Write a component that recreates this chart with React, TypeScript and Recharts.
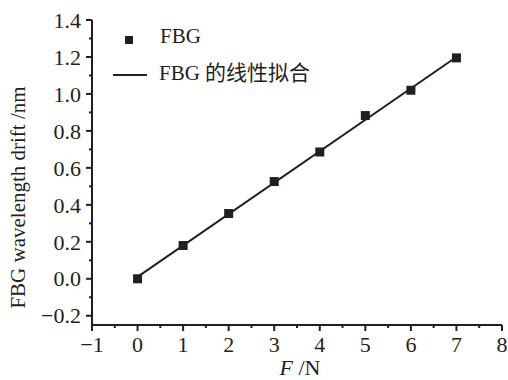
import React from 'react';
import { ComposedChart, Scatter, XAxis, YAxis } from 'recharts';

const forceN = [0, 1, 2, 3, 4, 5, 6, 7];
const driftNm = [0.0, 0.18, 0.353, 0.526, 0.686, 0.883, 1.02, 1.195];
const fitForce = [0, 7];
const fitDrift = [0.01, 1.2];
const xTicks = [-1, -0.5, 0, 0.5, 1, 1.5, 2, 2.5, 3, 3.5, 4, 4.5, 5, 5.5, 6, 6.5, 7, 7.5, 8];
const yTicks = [-0.2, -0.1, 0, 0.1, 0.2, 0.3, 0.4, 0.5, 0.6, 0.7, 0.8, 0.9, 1.0, 1.1, 1.2, 1.3, 1.4];
const legendNames = ['FBG', 'FBG 的线性拟合'];

const pointData = forceN.map((x, i) => ({ x, y: driftNm[i] }));
const fitData = fitForce.map((x, i) => ({ x, y: fitDrift[i] }));

const INK = '#231f20';
const FONT = "'Liberation Serif', 'Times New Roman', 'Noto Sans CJK SC', serif";
const TS = 5;
const TM = 6;

const fmt = (v: number, digits: number) => {
  const s = Math.abs(v).toFixed(digits);
  return v < -1e-9 ? '\u2212' + s : s;
};

const YTick = (props: any) => {
  const { x, y, payload } = props;
  const v = payload.value;
  const major = Math.abs(Math.round(v * 10)) % 2 === 0;
  const ax = x + TS + TM;
  return (
    <g>
      <line x1={ax - (major ? 6 : 3)} x2={ax} y1={y} y2={y} stroke={INK} strokeWidth={2} />
      {major && (
        <text x={x} y={y} dy="0.35em" textAnchor="end" fontSize={22} fill={INK} fontFamily={FONT}>
          {fmt(v, 1)}
        </text>
      )}
    </g>
  );
};

const XTick = (props: any) => {
  const { x, y, payload } = props;
  const v = payload.value;
  const major = Math.abs(Math.round(v * 2)) % 2 === 0;
  const ay = y - TS - TM;
  return (
    <g>
      <line x1={x} x2={x} y1={ay} y2={ay + (major ? 6 : 3)} stroke={INK} strokeWidth={2} />
      {major && (
        <text x={x} y={y} dy="0.71em" textAnchor="middle" fontSize={22} fill={INK} fontFamily={FONT}>
          {fmt(v, 0)}
        </text>
      )}
    </g>
  );
};

const SquareDot = (props: any) => {
  const { cx, cy } = props;
  return <rect x={cx - 4.5} y={cy - 4.5} width={9} height={9} fill={INK} />;
};

const NoDot = () => <g />;

const LegendBox = () => (
  <div style={{ position: 'absolute', left: 105, top: 25, width: 260, height: 70, fontFamily: FONT, fontSize: 21, color: INK, lineHeight: '21px' }}>
    <div style={{ position: 'absolute', left: 20, top: 11, width: 8, height: 8, background: INK }} />
    <div style={{ position: 'absolute', left: 55, top: 1, whiteSpace: 'nowrap' }}>{legendNames[0]}</div>
    <div style={{ position: 'absolute', left: 8, top: 49, width: 34, height: 2, background: INK }} />
    <div style={{ position: 'absolute', left: 54, top: 38, whiteSpace: 'nowrap' }}>{legendNames[1]}</div>
  </div>
);

const YLabel = (props: any) => {
  const { viewBox } = props;
  const cx = viewBox.x + 18;
  const cy = viewBox.y + viewBox.height / 2 + 25;
  return (
    <text transform={`translate(${cx},${cy}) rotate(-90)`} textAnchor="middle" dominantBaseline="central" fontSize={21} fill={INK} fontFamily={FONT}>
      FBG wavelength drift /nm
    </text>
  );
};

const XLabel = (props: any) => {
  const { viewBox } = props;
  const cx = viewBox.x + viewBox.width / 2 + 3;
  return (
    <text x={cx} y={viewBox.y + 34} dy="0.71em" textAnchor="middle" fontSize={22} fill={INK} fontFamily={FONT}>
      <tspan fontStyle="italic">F</tspan>
      <tspan> /N</tspan>
    </text>
  );
};

export default function App() {
  return (
    <div style={{ position: 'absolute', left: 0, top: 0, width: 508, height: 380, background: '#fff' }}>
      <ComposedChart width={508} height={380} margin={{ top: 20, right: 6, bottom: 0, left: 0 }}>
        <XAxis
          type="number"
          dataKey="x"
          domain={[-1, 8]}
          ticks={xTicks}
          interval={0}
          allowDataOverflow
          height={55}
          tickSize={TS}
          tickMargin={TM}
          tickLine={false}
          tick={<XTick />}
          axisLine={{ stroke: INK, strokeWidth: 2 }}
          label={<XLabel />}
        />
        <YAxis
          type="number"
          dataKey="y"
          domain={[-0.25, 1.4]}
          ticks={yTicks}
          interval={0}
          allowDataOverflow
          width={92}
          tickSize={TS}
          tickMargin={TM}
          tickLine={false}
          tick={<YTick />}
          axisLine={{ stroke: INK, strokeWidth: 2 }}
          label={<YLabel />}
        />
        <Scatter data={fitData} dataKey="y" line={{ stroke: INK, strokeWidth: 2 }} shape={<NoDot />} isAnimationActive={false} legendType="none" />
        <Scatter data={pointData} dataKey="y" shape={<SquareDot />} isAnimationActive={false} />
      </ComposedChart>
      <LegendBox />
    </div>
  );
}
